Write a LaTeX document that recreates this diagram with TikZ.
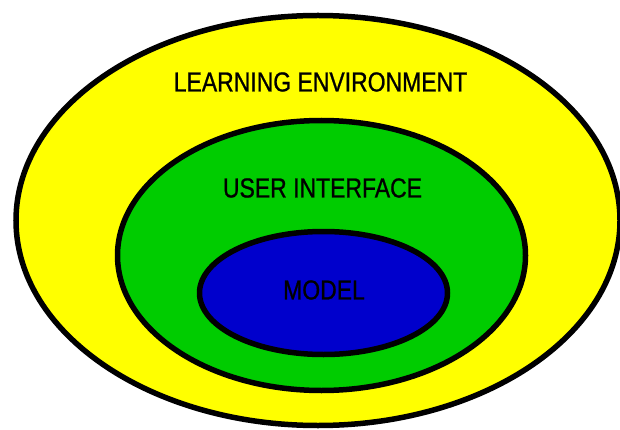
\documentclass[tikz,border=0pt]{standalone}
\usepackage{fontspec}
\setmainfont{Liberation Sans}[FakeStretch=0.835,FakeBold=0.8]
\usetikzlibrary{shapes.geometric}
\definecolor{ringyellow}{RGB}{255,255,0}
\definecolor{ringgreen}{RGB}{0,204,0}
\definecolor{ringblue}{RGB}{0,0,204}
\tikzset{
  ring/.style={ellipse, draw=black, line width=5.5pt, inner sep=0pt},
  lbl/.style={font=\fontsize{27.5}{30}\selectfont, text=black, inner sep=0pt}
}
\begin{document}
\begin{tikzpicture}[x=1pt,y=-1pt]
\useasboundingbox[fill=white] (0,0) rectangle (620,430);
\clip (0,0) rectangle (620,430);
\node[ring, fill=ringyellow, minimum width=604pt, minimum height=410pt] (env) at (318,220.5) {};
\node[ring, fill=ringgreen, minimum width=408pt, minimum height=270pt] (ui) at (321.5,255.5) {};
\node[ring, fill=ringblue, minimum width=248pt, minimum height=123pt] (model) at (323.5,293) {};
\node[lbl] (envlbl) at (320.5,82) {LEARNING ENVIRONMENT};
\node[lbl] (uilbl) at (322.5,188) {USER INTERFACE};
\node[lbl] (modellbl) at (324,290) {MODEL};
\end{tikzpicture}
\end{document}
